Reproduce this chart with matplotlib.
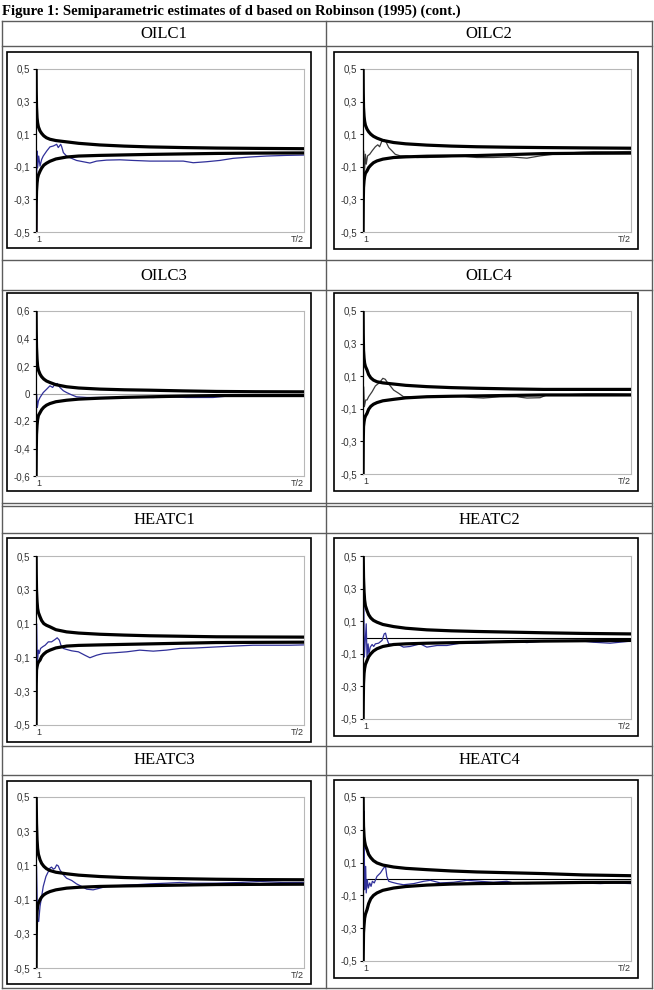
import matplotlib
matplotlib.use("Agg")
import matplotlib.pyplot as plt
from matplotlib.lines import Line2D
from matplotlib.patches import Rectangle

W, H = 654, 990

# ─── Dados (m = 1 ... T/2, escala 1..1000) ───────────────────────────
band_m = [1, 2, 3, 5, 7, 10, 16, 22, 30, 40, 53, 75, 115, 160, 239, 330, 425, 550, 674, 820, 1000]

oilc1_m = [1, 1, 3, 5, 7, 11, 16, 22, 28, 41, 53, 66, 78, 84, 93, 97, 103, 115, 128,
           152, 177, 202, 227, 264, 314, 363, 425, 487, 550, 587, 636, 686, 736, 798,
           860, 934, 1000]
oilc1_d = [0.5, -0.3, -0.22, -0.003, -0.106, -0.034, -0.096, -0.055, -0.034, -0.003,
           0.022, 0.028, 0.038, 0.018, 0.038, 0.022, -0.013, -0.034, -0.044, -0.061,
           -0.069, -0.077, -0.065, -0.059, -0.057, -0.061, -0.065, -0.065, -0.065,
           -0.075, -0.069, -0.061, -0.048, -0.040, -0.034, -0.030, -0.028]
oilc1_pink_m = [1, 1]
oilc1_pink_d = [-0.3, -0.5]
oilc1_up = [0.6, 0.36, 0.27, 0.20, 0.17, 0.145, 0.12, 0.105, 0.09, 0.078, 0.069,
            0.061, 0.053, 0.044, 0.034, 0.027, 0.022, 0.018, 0.015, 0.013, 0.011]
oilc1_lo = [-0.6, -0.33, -0.25, -0.20, -0.17, -0.15, -0.127, -0.108, -0.09, -0.078,
            -0.066, -0.052, -0.040, -0.034, -0.030, -0.027, -0.024, -0.021, -0.018,
            -0.016, -0.015]

oilc2_m = [1, 1, 3, 6, 10, 13, 18, 26, 35, 47, 56, 63, 72, 80, 88, 97, 109, 121, 140,
           165, 202, 239, 301, 363, 425, 487, 550, 612, 661, 736, 798, 860, 934, 1000]
oilc2_d = [0.5, -0.5, -0.002, -0.146, -0.023, -0.084, -0.033, -0.023, -0.002, 0.023,
           0.035, 0.023, 0.060, 0.066, 0.049, 0.018, -0.002, -0.023, -0.033, -0.033,
           -0.043, -0.043, -0.039, -0.033, -0.043, -0.043, -0.039, -0.047, -0.033,
           -0.018, -0.012, -0.008, -0.008, -0.006]
oilc2_up = [0.6, 0.36, 0.265, 0.21, 0.18, 0.155, 0.131, 0.115, 0.10, 0.087, 0.076,
            0.062, 0.049, 0.041, 0.033, 0.027, 0.023, 0.020, 0.018, 0.016, 0.014]
oilc2_lo = [-0.6, -0.32, -0.228, -0.185, -0.16, -0.14, -0.125, -0.105, -0.09, -0.075,
            -0.064, -0.053, -0.043, -0.039, -0.035, -0.033, -0.031, -0.025, -0.019,
            -0.017, -0.016]

oilc3_m = [1, 1, 3, 6, 10, 16, 28, 41, 53, 63, 72, 80, 90, 103, 115, 134, 152, 190,
           239, 301, 363, 438, 487, 562, 612, 661, 736, 860, 947, 1000]
oilc3_d = [0.4, -0.5, -0.005, -0.102, -0.054, -0.029, 0.007, 0.032, 0.056, 0.044,
           0.068, 0.073, 0.044, 0.020, 0.007, -0.010, -0.024, -0.029, -0.029, -0.029,
           -0.024, -0.029, -0.024, -0.029, -0.029, -0.029, -0.015, -0.012, -0.010, -0.010]
oilc3_up = [0.7, 0.45, 0.337, 0.25, 0.20, 0.17, 0.141, 0.122, 0.105, 0.091, 0.080,
            0.064, 0.049, 0.040, 0.032, 0.027, 0.024, 0.019, 0.015, 0.013, 0.012]
oilc3_lo = [-0.7, -0.42, -0.298, -0.23, -0.19, -0.16, -0.139, -0.118, -0.10, -0.085,
            -0.073, -0.060, -0.049, -0.041, -0.034, -0.028, -0.024, -0.019, -0.015,
            -0.015, -0.015]

oilc4_m = [1, 1, 3, 6, 11, 16, 22, 35, 47, 59, 68, 75, 84, 90, 103, 115, 134, 152, 177,
           239, 301, 363, 401, 450, 512, 574, 612, 661, 686, 736, 835, 922, 1000]
oilc4_d = [0.5, -0.5, 0.036, -0.087, -0.046, -0.046, -0.026, 0.005, 0.040, 0.056,
           0.072, 0.087, 0.081, 0.066, 0.040, 0.015, -0.005, -0.026, -0.026, -0.030,
           -0.026, -0.021, -0.030, -0.034, -0.026, -0.026, -0.034, -0.032, -0.015,
           -0.015, -0.009, -0.009, -0.011]
oilc4_up = [0.6, 0.36, 0.26, 0.21, 0.18, 0.16, 0.138, 0.11, 0.09, 0.076, 0.066,
            0.059, 0.052, 0.044, 0.036, 0.030, 0.026, 0.022, 0.019, 0.019, 0.019]
oilc4_lo = [-0.6, -0.30, -0.209, -0.18, -0.16, -0.145, -0.128, -0.103, -0.085, -0.072,
            -0.062, -0.051, -0.042, -0.033, -0.026, -0.023, -0.021, -0.018, -0.015,
            -0.015, -0.015]

heatc1_m = [1, 1, 3, 6, 10, 13, 18, 26, 35, 47, 59, 72, 80, 88, 94, 103, 115, 134, 159,
            183, 202, 227, 252, 289, 339, 388, 438, 487, 537, 587, 636, 686, 736, 810,
            885, 947, 1000]
heatc1_d = [0.5, -0.5, 0.100, -0.136, -0.057, -0.077, -0.047, -0.037, -0.028, -0.008,
            -0.008, 0.006, 0.016, 0.002, -0.028, -0.047, -0.053, -0.061, -0.067, -0.087,
            -0.102, -0.087, -0.077, -0.073, -0.067, -0.057, -0.063, -0.057, -0.047,
            -0.045, -0.041, -0.037, -0.033, -0.028, -0.028, -0.028, -0.026]
heatc1_up = [0.6, 0.40, 0.297, 0.23, 0.19, 0.165, 0.140, 0.118, 0.10, 0.09, 0.081,
             0.064, 0.051, 0.044, 0.037, 0.032, 0.028, 0.025, 0.022, 0.021, 0.020]
heatc1_lo = [-0.6, -0.26, -0.175, -0.155, -0.14, -0.128, -0.116, -0.095, -0.08, -0.067,
             -0.057, -0.044, -0.033, -0.029, -0.026, -0.023, -0.020, -0.016, -0.012,
             -0.011, -0.010]

heatc2_m = [1, 1, 3, 6, 13, 16, 20, 23, 28, 35, 41, 47, 59, 72, 80, 85, 90, 97, 109,
            128, 152, 177, 214, 239, 277, 314, 363, 425, 487, 550, 612, 674, 736, 798,
            860, 922, 1000]
heatc2_d = [0.5, -0.5, 0.42, -0.12, 0.084, -0.12, -0.039, -0.100, -0.059, -0.043,
            -0.055, -0.039, -0.035, -0.018, 0.022, 0.027, -0.008, -0.039, -0.043, -0.039,
            -0.059, -0.055, -0.039, -0.059, -0.049, -0.049, -0.035, -0.035, -0.029,
            -0.022, -0.031, -0.022, -0.022, -0.018, -0.029, -0.035, -0.022]
heatc2_up = [0.6, 0.48, 0.369, 0.28, 0.23, 0.195, 0.165, 0.14, 0.12, 0.105, 0.094,
             0.080, 0.067, 0.057, 0.047, 0.041, 0.037, 0.033, 0.029, 0.025, 0.022]
heatc2_lo = [-0.6, -0.40, -0.284, -0.22, -0.19, -0.165, -0.141, -0.118, -0.10, -0.083,
             -0.069, -0.055, -0.043, -0.039, -0.035, -0.032, -0.029, -0.025, -0.022,
             -0.020, -0.018]

heatc3_m = [1, 1, 3, 7, 11, 16, 22, 28, 38, 47, 53, 59, 66, 72, 78, 84, 90, 103, 115,
            134, 152, 171, 190, 214, 239, 264, 301, 363, 425, 487, 537, 587, 674, 760,
            835, 922, 1000]
heatc3_d = [0.5, -0.5, 0.094, -0.218, -0.228, -0.140, -0.082, -0.023, 0.035, 0.064,
            0.084, 0.090, 0.078, 0.084, 0.103, 0.097, 0.074, 0.045, 0.025, 0.012,
            -0.008, -0.023, -0.039, -0.043, -0.033, -0.023, -0.019, -0.014, -0.008,
            -0.004, 0.0, -0.004, -0.004, 0.0, 0.006, 0.0, 0.0]
heatc3_up = [0.6, 0.46, 0.347, 0.25, 0.20, 0.165, 0.133, 0.112, 0.095, 0.081, 0.070,
             0.060, 0.051, 0.043, 0.035, 0.029, 0.025, 0.022, 0.019, 0.017, 0.016]
heatc3_lo = [-0.6, -0.31, -0.218, -0.17, -0.14, -0.12, -0.101, -0.085, -0.072, -0.062,
             -0.053, -0.043, -0.033, -0.028, -0.023, -0.020, -0.018, -0.015, -0.012,
             -0.011, -0.010]

heatc4_m = [1, 1, 5, 7, 11, 13, 17, 21, 26, 31, 36, 43, 53, 66, 78, 85, 90, 97, 109,
            128, 152, 190, 227, 252, 289, 339, 388, 438, 487, 537, 562, 612, 674, 736,
            810, 885, 934, 1000]
heatc4_d = [0.5, -0.5, 0.413, -0.065, 0.077, -0.085, -0.004, -0.055, -0.024, -0.045,
            -0.014, -0.024, 0.016, 0.037, 0.067, 0.077, 0.016, -0.014, -0.020, -0.028,
            -0.035, -0.028, -0.014, -0.008, -0.024, -0.020, -0.008, -0.014, -0.020,
            -0.014, -0.024, -0.028, -0.024, -0.020, -0.024, -0.028, -0.024, -0.028]
heatc4_up = [0.6, 0.42, 0.321, 0.26, 0.23, 0.205, 0.179, 0.15, 0.13, 0.112, 0.098,
             0.085, 0.073, 0.065, 0.057, 0.049, 0.043, 0.038, 0.033, 0.025, 0.020]
heatc4_lo = [-0.6, -0.45, -0.329, -0.28, -0.24, -0.215, -0.187, -0.15, -0.12, -0.10,
             -0.085, -0.069, -0.055, -0.046, -0.037, -0.031, -0.028, -0.026, -0.024,
             -0.021, -0.020]

yticks_05 = [-0.5, -0.3, -0.1, 0.1, 0.3, 0.5]
yticks_06 = [-0.6, -0.4, -0.2, 0.0, 0.2, 0.4, 0.6]
xtick_labels = ["1", "T/2"]

# ─── Estilo ──────────────────────────────────────────────
AZUL = "#30309a"
CINZA = "#3c3c3c"
LINHA_TAB = "#5c5c5c"
SERIF = ["Liberation Serif", "DejaVu Serif"]
SANS = ["Liberation Sans", "DejaVu Sans"]

# nome, m, d, sup, inf, cor, yticks, linha zero, caixa (px), area (px)
paineis = [
    ("OILC1", oilc1_m, oilc1_d, oilc1_up, oilc1_lo, AZUL, yticks_05, None,
     (7, 52, 311, 248), (36, 69, 304, 232)),
    ("OILC2", oilc2_m, oilc2_d, oilc2_up, oilc2_lo, CINZA, yticks_05, None,
     (334, 52, 638, 249), (363, 69, 631, 232)),
    ("OILC3", oilc3_m, oilc3_d, oilc3_up, oilc3_lo, AZUL, yticks_06, "#a8a8a8",
     (7, 293, 311, 491), (36, 311, 304, 476)),
    ("OILC4", oilc4_m, oilc4_d, oilc4_up, oilc4_lo, CINZA, yticks_05, None,
     (334, 293, 638, 491), (363, 311, 631, 474)),
    ("HEATC1", heatc1_m, heatc1_d, heatc1_up, heatc1_lo, AZUL, yticks_05, None,
     (7, 538, 311, 742), (36, 556, 304, 725)),
    ("HEATC2", heatc2_m, heatc2_d, heatc2_up, heatc2_lo, AZUL, yticks_05, "black",
     (334, 538, 638, 736), (363, 556, 631, 719)),
    ("HEATC3", heatc3_m, heatc3_d, heatc3_up, heatc3_lo, AZUL, yticks_05, None,
     (7, 781, 311, 984), (36, 797, 304, 968)),
    ("HEATC4", heatc4_m, heatc4_d, heatc4_up, heatc4_lo, AZUL, yticks_05, "black",
     (334, 780, 638, 978), (363, 797, 631, 961)),
]


def fx(px):
    return px / W


def fy(py):
    return 1 - py / H


fig = plt.figure(figsize=(W / 100, H / 100), dpi=100)
fig.patch.set_facecolor("white")

# ─── Título ──────────────────────────────────────────────
fig.text(fx(2), fy(15), "Figure 1: Semiparametric estimates of d based on Robinson (1995) (cont.)",
         fontsize=10.5, fontweight="bold", family=SERIF, ha="left", va="baseline")

# ─── Tabela ──────────────────────────────────────────────
for yy in [21, 46, 260, 290, 503, 506, 533, 746, 775, 988]:
    fig.add_artist(Line2D([fx(1.5), fx(652)], [fy(yy), fy(yy)], color=LINHA_TAB, lw=1.0))
for xx in [1.5, 326, 652]:
    fig.add_artist(Line2D([fx(xx), fx(xx)], [fy(21), fy(988)], color=LINHA_TAB, lw=1.0))

rotulos_y = {0: 33.5, 1: 275.5, 2: 519.5, 3: 760.5}
for i, p in enumerate(paineis):
    nome = p[0]
    cx = 164 if i % 2 == 0 else 489
    fig.text(fx(cx), fy(rotulos_y[i // 2]), nome, fontsize=12, family=SERIF,
             ha="center", va="center")

# ─── Gráficos ────────────────────────────────────────────
for nome, m, d, up, lo, cor, yt, zero, caixa, area in paineis:
    bx0, by0, bx1, by1 = caixa
    fig.add_artist(Rectangle((fx(bx0), fy(by1)), (bx1 - bx0) / W, (by1 - by0) / H,
                             transform=fig.transFigure, facecolor="white",
                             edgecolor="black", lw=1.2, zorder=0))
    ax0, ay0, ax1, ay1 = area
    ax = fig.add_axes([fx(ax0), fy(ay1), (ax1 - ax0) / W, (ay1 - ay0) / H])
    ax.set_facecolor("white")

    if zero is not None:
        ax.axhline(0, color=zero, lw=0.8, zorder=1)
    ax.plot(m, d, color=cor, lw=0.9, zorder=2)
    if nome == "OILC1":
        ax.plot(oilc1_pink_m, oilc1_pink_d, color="#ff00ff", lw=1.0, zorder=2)
    ax.plot(band_m, up, color="black", lw=2.3, zorder=3)
    ax.plot(band_m, lo, color="black", lw=2.3, zorder=3)

    ax.set_xlim(1, 1000)
    ax.set_ylim(yt[0], yt[-1])
    ax.set_yticks(yt)
    ax.set_yticklabels(["0" if v == 0 else f"{v:.1f}".replace(".", ",") for v in yt],
                       fontsize=7, family=SANS, color="#333333")
    ax.set_xticks([1, 1000])
    ax.set_xticklabels(xtick_labels, fontsize=6.5, family=SANS, color="#333333")
    labs = ax.get_xticklabels()
    labs[0].set_ha("left")
    labs[1].set_ha("right")
    ax.tick_params(axis="x", length=0, pad=2)
    ax.tick_params(axis="y", length=2.5, width=0.8, pad=1.5, direction="out")

    for lado in ["top", "right", "bottom"]:
        ax.spines[lado].set_color("#b8b8b8")
        ax.spines[lado].set_linewidth(0.8)
    ax.spines["left"].set_color("black")
    ax.spines["left"].set_linewidth(0.9)

fig.savefig("out.png", dpi=100, facecolor="white")
